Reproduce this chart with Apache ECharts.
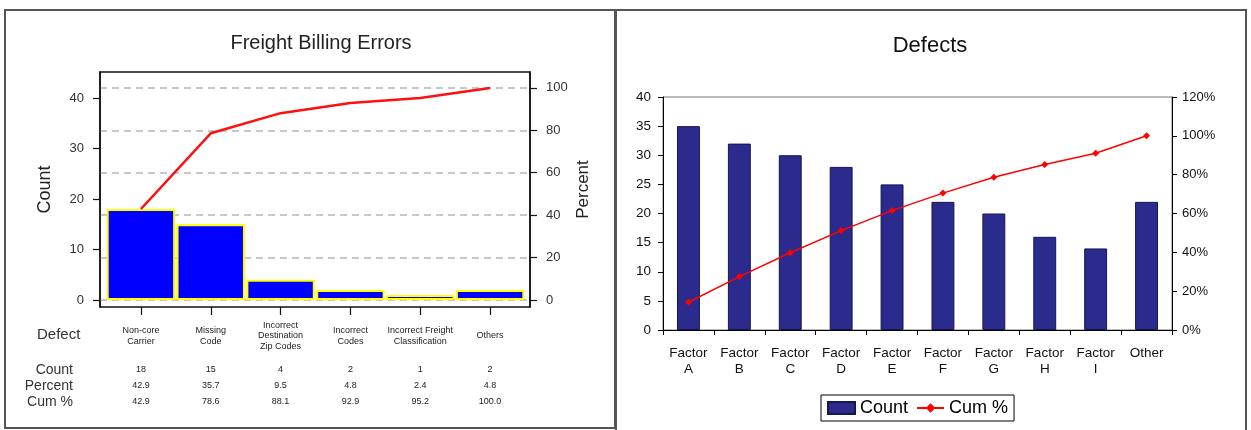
<!DOCTYPE html>
<html>
<head>
<meta charset="utf-8">
<script src="https://cdn.jsdelivr.net/npm/echarts@6/dist/echarts.min.js"></script>
<style>
  html, body { margin: 0; padding: 0; background: #fff; }
  #wrap { position: relative; width: 1251px; height: 430px; overflow: hidden; }
  .panel { position: absolute; box-sizing: border-box; border: 2px solid #555; }
  #leftPanel { left: 4px; top: 9px; width: 612px; height: 420px; }
  #rightPanel { left: 615px; top: 9px; width: 632px; height: 430px; border-bottom: none; }
  #chart { position: absolute; left: 0; top: 0; width: 1251px; height: 430px; }
</style>
</head>
<body>
<div id="wrap">
  <div class="panel" id="leftPanel"></div>
  <div class="panel" id="rightPanel"></div>
  <div id="chart"></div>
</div>
<script>
// ---- Freight billing errors (Pareto) ----
const billCategories = ['Non-core\nCarrier', 'Missing\nCode', 'Incorrect\nDestination\nZip Codes',
  'Incorrect\nCodes', 'Incorrect Freight\nClassification', 'Others'];
const billCounts = [18, 15, 4, 2, 1, 2];
const billPercent = [42.9, 35.7, 9.5, 4.8, 2.4, 4.8];
const billCumPercent = [42.9, 78.6, 88.1, 92.9, 95.2, 100.0];
const billTotal = 42;
const billCountTicks = [0, 10, 20, 30, 40];
const billPercentTicks = [0, 20, 40, 60, 80, 100];
const billCountMin = -1.39;
const billCountMax = 45.15;

// ---- Defects (Pareto) ----
const defectCategories = ['Factor\nA', 'Factor\nB', 'Factor\nC', 'Factor\nD', 'Factor\nE',
  'Factor\nF', 'Factor\nG', 'Factor\nH', 'Factor\nI', 'Other'];
const defectCounts = [35, 32, 30, 28, 25, 22, 20, 16, 14, 22];
const defectCumPercent = [14.3, 27.5, 39.8, 51.2, 61.5, 70.5, 78.7, 85.2, 91.0, 100.0];

const FONT = '"Liberation Sans", Arial, sans-serif';
const pctMin = billCountMin * 100 / billTotal;
const pctMax = billCountMax * 100 / billTotal;

function tableAxis(values, name, offset) {
  return {
    type: 'category', gridIndex: 1, position: 'bottom', offset: offset,
    data: values,
    axisLine: { show: false, onZero: false }, axisTick: { show: false },
    axisLabel: { interval: 0, margin: 0, verticalAlign: 'middle', fontSize: 9,
      color: '#222', fontFamily: FONT },
    splitLine: { show: false },
    name: name, nameLocation: 'start', nameGap: 33,
    nameTextStyle: { fontSize: 14, color: '#333', fontFamily: FONT, align: 'right', verticalAlign: 'middle' }
  };
}

const chart = echarts.init(document.getElementById('chart'), null, { renderer: 'canvas' });
chart.setOption({
  backgroundColor: 'transparent',
  animation: false,
  title: [
    { text: 'Freight Billing Errors', left: 321, top: 33, textAlign: 'center', padding: 0,
      textStyle: { fontSize: 20, fontWeight: 'normal', color: '#222', fontFamily: FONT } },
    { text: 'Defect', left: 37, top: 327, padding: 0,
      textStyle: { fontSize: 15, fontWeight: 'normal', color: '#333', fontFamily: FONT } },
    { text: 'Defects', left: 930, top: 35, textAlign: 'center', padding: 0,
      textStyle: { fontSize: 22, fontWeight: 'normal', color: '#111', fontFamily: FONT } }
  ],
  legend: {
    left: 821, top: 395, orient: 'horizontal',
    borderColor: '#000', borderWidth: 1, padding: [4, 6, 4, 6],
    itemGap: 8, itemWidth: 27, itemHeight: 12,
    textStyle: { fontSize: 18, color: '#000', fontFamily: FONT },
    data: [{ name: 'Count', icon: 'rect' }, { name: 'Cum %' }]
  },
  grid: [
    { left: 100, top: 72, width: 430, height: 235, show: true, borderColor: '#111', borderWidth: 1.5,
      backgroundColor: 'transparent', outerBoundsMode: 'none' },
    { left: 106, top: 72, width: 419, height: 235, show: false, outerBoundsMode: 'none' },
    { left: 663, top: 97, width: 509, height: 233, show: true, borderColor: '#777', borderWidth: 1,
      backgroundColor: 'transparent', outerBoundsMode: 'none' }
  ],
  xAxis: [
    { type: 'value', gridIndex: 0, min: 0, max: 1, show: false },
    {
      type: 'category', gridIndex: 1, position: 'bottom', data: billCategories,
      axisLine: { show: false, onZero: false },
      axisTick: { show: true, alignWithLabel: true, length: 8, lineStyle: { color: '#111', width: 1.2 } },
      axisLabel: { interval: 0, margin: 29, verticalAlign: 'middle', fontSize: 9, lineHeight: 10.5,
        color: '#222', fontFamily: FONT },
      splitLine: { show: false }
    },
    tableAxis(billCounts.map(String), 'Count', 63),
    tableAxis(billPercent.map(v => v.toFixed(1)), 'Percent', 79),
    tableAxis(billCumPercent.map(v => v.toFixed(1)), 'Cum %', 95),
    {
      type: 'category', gridIndex: 2, position: 'bottom', data: defectCategories,
      axisLine: { show: true, onZero: false, lineStyle: { color: '#000', width: 1 } },
      axisTick: { show: true, alignWithLabel: false, length: 5, lineStyle: { color: '#000' } },
      axisLabel: { interval: 0, margin: 15, fontSize: 13.5, lineHeight: 16, color: '#111',
        verticalAlign: 'top', fontFamily: FONT },
      splitLine: { show: false }
    }
  ],
  yAxis: [
    {
      type: 'value', gridIndex: 0, position: 'left', min: billCountMin, max: billCountMax,
      axisLine: { show: true, onZero: false, lineStyle: { color: '#111', width: 1.5 } },
      axisTick: { show: true, length: 7, customValues: billCountTicks, lineStyle: { color: '#111', width: 1.2 } },
      axisLabel: { customValues: billCountTicks, margin: 16, fontSize: 13, color: '#333', fontFamily: FONT },
      splitLine: { show: false },
      name: 'Count', nameLocation: 'middle', nameGap: 46, nameRotate: 90,
      nameTextStyle: { fontSize: 18, color: '#222', fontFamily: FONT }
    },
    {
      type: 'value', gridIndex: 0, position: 'right', min: pctMin, max: pctMax,
      axisLine: { show: true, onZero: false, lineStyle: { color: '#111', width: 1.5 } },
      axisTick: { show: true, length: 7, customValues: billPercentTicks, lineStyle: { color: '#111', width: 1.2 } },
      axisLabel: { customValues: billPercentTicks, margin: 16, fontSize: 13, color: '#333', fontFamily: FONT },
      splitLine: { show: true, lineStyle: { color: '#b5b5b5', width: 1.5, type: [7, 5] } },
      name: 'Percent', nameLocation: 'middle', nameGap: 45, nameRotate: 90,
      nameTextStyle: { fontSize: 17, color: '#222', fontFamily: FONT }
    },
    { type: 'value', gridIndex: 1, min: billCountMin, max: billCountMax, show: false },
    { type: 'value', gridIndex: 1, min: pctMin, max: pctMax, show: false },
    {
      type: 'value', gridIndex: 2, position: 'left', min: 0, max: 40, interval: 5,
      axisLine: { show: true, onZero: false, lineStyle: { color: '#000', width: 1 } },
      axisTick: { show: true, length: 5, lineStyle: { color: '#000' } },
      axisLabel: { margin: 12, fontSize: 13.5, color: '#111', fontFamily: FONT },
      splitLine: { show: false }
    },
    {
      type: 'value', gridIndex: 2, position: 'right', min: 0, max: 120, interval: 20,
      axisLine: { show: true, onZero: false, lineStyle: { color: '#000', width: 1 } },
      axisTick: { show: true, length: 5, lineStyle: { color: '#000' } },
      axisLabel: { margin: 10, fontSize: 13, color: '#111', fontFamily: FONT, formatter: '{value}%' },
      splitLine: { show: false }
    }
  ],
  series: [
    {
      name: 'Errors', type: 'bar', xAxisIndex: 1, yAxisIndex: 2, data: billCounts,
      barCategoryGap: '2%', z: 2,
      itemStyle: { color: '#0000ff', borderColor: '#ffff00', borderWidth: 2 }
    },
    {
      name: 'Cumulative', type: 'line', xAxisIndex: 1, yAxisIndex: 3, data: billCumPercent,
      symbol: 'none', z: 3,
      lineStyle: { color: '#ff1010', width: 2.5 }
    },
    {
      name: 'Count', type: 'bar', xAxisIndex: 5, yAxisIndex: 4, data: defectCounts,
      barWidth: '45%', z: 2,
      itemStyle: { color: '#2b2b8e', borderColor: '#16164f', borderWidth: 1 }
    },
    {
      name: 'Cum %', type: 'line', xAxisIndex: 5, yAxisIndex: 5, data: defectCumPercent,
      symbol: 'diamond', symbolSize: 7, z: 3,
      lineStyle: { color: '#ff0000', width: 1.5 },
      itemStyle: { color: '#ff0000' }
    }
  ]
});
</script>
</body>
</html>
